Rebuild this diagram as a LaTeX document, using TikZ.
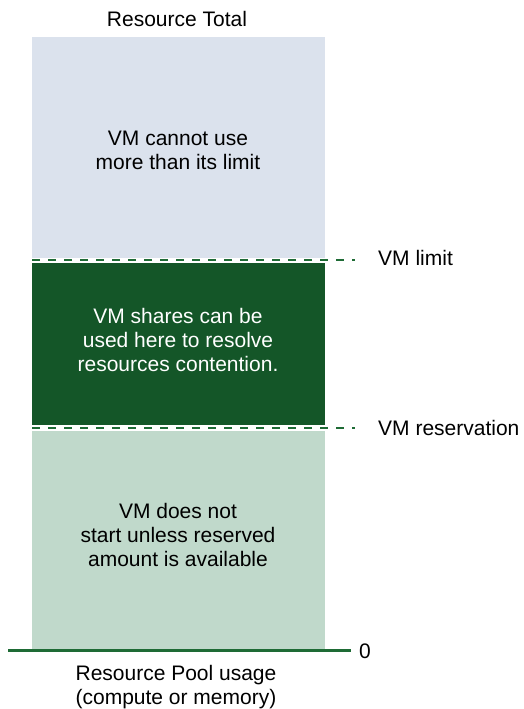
\documentclass[tikz,border=0pt]{standalone}
\usepackage{fontspec}
\setmainfont{Liberation Sans}
\definecolor{lblue}{HTML}{DBE2ED}
\definecolor{dgreen}{HTML}{145628}
\definecolor{lgreen}{HTML}{C0D9CB}
\definecolor{lineg}{HTML}{1E6B35}
\begin{document}
\begin{tikzpicture}[x=1pt,y=-1pt,
  lbl/.style={inner sep=0pt,font=\fontsize{21}{24}\selectfont},
  blk/.style={align=center,inner sep=0pt,font=\fontsize{21}{24}\selectfont},
  dashln/.style={draw=lineg,line width=2.5pt,dash pattern=on 8pt off 8pt}]
\useasboundingbox[fill=white] (0,0) rectangle (524,709);
% blocks
\fill[lblue] (32,37) rectangle (325,257.5);
\fill[dgreen] (32,262.5) rectangle (325,425);
\fill[lgreen] (32,431) rectangle (325,649);
% block texts
\node[blk] (t1) at (178,150) {VM cannot use\\more than its limit};
\node[blk,text=white] (t2) at (178,340) {VM shares can be\\used here to resolve\\resources contention.};
\node[blk] (t3) at (178,535) {VM does not\\start unless reserved\\amount is available};
% markers
\coordinate (l1) at (32,260);
\coordinate (l2) at (355,260);
\coordinate (r1) at (32,428);
\coordinate (r2) at (355,428);
\draw[dashln] (l1) -- (l2);
\draw[dashln] (r1) -- (r2);
\node[lbl,anchor=base west] (vl) at (378,265) {VM limit};
\node[lbl,anchor=base west] (vr) at (378,435) {VM reservation};
% baseline
\coordinate (b1) at (8,650);
\coordinate (b2) at (351,650);
\draw[lineg,line width=3pt] (b1) -- (b2);
\node[lbl,anchor=base west] (zero) at (359,658) {0};
% titles
\node[lbl,anchor=base] (top) at (177,27) {Resource Total};
\node[blk] (bot) at (176,687) {Resource Pool usage\\(compute or memory)};
\end{tikzpicture}
\end{document}
